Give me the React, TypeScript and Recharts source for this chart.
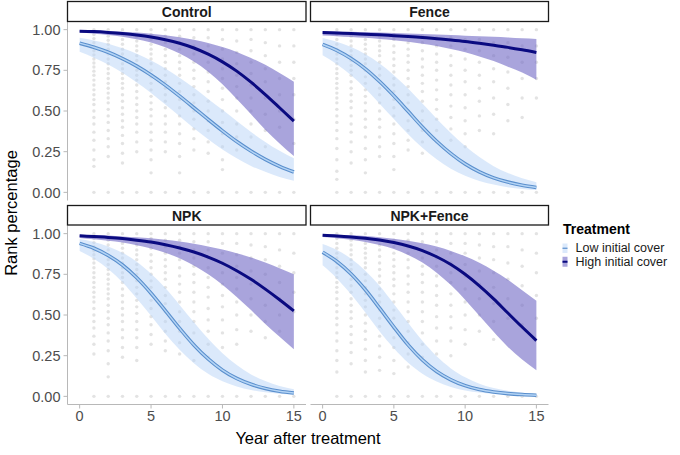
import React from 'react';
import { ComposedChart, Area, Line, Scatter, XAxis, YAxis } from 'recharts';

const YEARS = [0, 1, 2, 3, 4, 5, 6, 7, 8, 9, 10, 11, 12, 13, 14, 15];
const POINT_YEARS = [1, 2, 3, 4, 5, 6, 7, 8, 9, 10, 11, 12, 13, 14, 15];
const X_TICKS = [0, 5, 10, 15];
const Y_TICKS = [0, 0.25, 0.5, 0.75, 1];
const PANEL_NAMES = ['Control', 'Fence', 'NPK', 'NPK+Fence'];
const LEGEND_TITLE = 'Treatment';
const LEGEND_LABELS = ['Low initial cover', 'High initial cover'];
const X_TITLE = 'Year after treatment';
const Y_TITLE = 'Rank percentage';

// ---- Control ----
const CONTROL_LOW_MEAN = [0.917, 0.892, 0.861, 0.822, 0.776, 0.721, 0.659, 0.591, 0.52, 0.448, 0.378, 0.312, 0.254, 0.203, 0.16, 0.125];
const CONTROL_LOW_LO = [0.864, 0.828, 0.786, 0.735, 0.675, 0.611, 0.54, 0.468, 0.394, 0.327, 0.263, 0.209, 0.162, 0.126, 0.095, 0.071];
const CONTROL_LOW_HI = [0.95, 0.934, 0.913, 0.885, 0.852, 0.81, 0.761, 0.705, 0.643, 0.574, 0.507, 0.438, 0.371, 0.31, 0.255, 0.209];
const CONTROL_HIGH_MEAN = [0.99, 0.988, 0.983, 0.976, 0.967, 0.955, 0.938, 0.916, 0.887, 0.849, 0.802, 0.745, 0.677, 0.601, 0.52, 0.438];
const CONTROL_HIGH_LO = [0.982, 0.975, 0.967, 0.956, 0.941, 0.921, 0.892, 0.854, 0.804, 0.741, 0.664, 0.574, 0.48, 0.385, 0.3, 0.223];
const CONTROL_HIGH_HI = [0.996, 0.994, 0.991, 0.987, 0.982, 0.975, 0.965, 0.953, 0.938, 0.918, 0.893, 0.863, 0.826, 0.784, 0.733, 0.679];

// ---- Fence ----
const FENCE_LOW_MEAN = [0.909, 0.872, 0.822, 0.759, 0.681, 0.593, 0.498, 0.402, 0.314, 0.238, 0.175, 0.126, 0.089, 0.063, 0.044, 0.03];
const FENCE_LOW_LO = [0.842, 0.787, 0.719, 0.638, 0.545, 0.451, 0.357, 0.274, 0.203, 0.145, 0.102, 0.07, 0.048, 0.032, 0.021, 0.014];
const FENCE_LOW_HI = [0.949, 0.926, 0.893, 0.849, 0.792, 0.72, 0.639, 0.546, 0.453, 0.365, 0.285, 0.217, 0.161, 0.119, 0.086, 0.062];
const FENCE_HIGH_MEAN = [0.982, 0.979, 0.976, 0.972, 0.968, 0.963, 0.958, 0.952, 0.944, 0.936, 0.927, 0.916, 0.904, 0.891, 0.876, 0.859];
const FENCE_HIGH_LO = [0.964, 0.96, 0.955, 0.95, 0.943, 0.935, 0.925, 0.913, 0.899, 0.881, 0.861, 0.835, 0.807, 0.772, 0.736, 0.692];
const FENCE_HIGH_HI = [0.991, 0.989, 0.987, 0.985, 0.982, 0.98, 0.977, 0.973, 0.97, 0.967, 0.963, 0.96, 0.956, 0.952, 0.947, 0.943];

// ---- NPK ----
const NPK_LOW_MEAN = [0.94, 0.91, 0.866, 0.807, 0.729, 0.634, 0.527, 0.418, 0.316, 0.23, 0.161, 0.11, 0.074, 0.049, 0.032, 0.021];
const NPK_LOW_LO = [0.893, 0.846, 0.782, 0.701, 0.601, 0.495, 0.385, 0.287, 0.204, 0.139, 0.093, 0.061, 0.039, 0.025, 0.016, 0.01];
const NPK_LOW_HI = [0.967, 0.949, 0.921, 0.882, 0.828, 0.754, 0.666, 0.562, 0.455, 0.354, 0.265, 0.192, 0.135, 0.094, 0.064, 0.044];
const NPK_HIGH_MEAN = [0.987, 0.982, 0.977, 0.97, 0.96, 0.948, 0.932, 0.912, 0.887, 0.856, 0.818, 0.772, 0.719, 0.659, 0.594, 0.525];
const NPK_HIGH_LO = [0.973, 0.965, 0.956, 0.945, 0.929, 0.909, 0.882, 0.848, 0.804, 0.75, 0.686, 0.611, 0.53, 0.445, 0.366, 0.289];
const NPK_HIGH_HI = [0.993, 0.991, 0.988, 0.983, 0.978, 0.971, 0.962, 0.951, 0.938, 0.921, 0.902, 0.88, 0.853, 0.823, 0.788, 0.75];

// ---- NPK+Fence ----
const NPKF_LOW_MEAN = [0.886, 0.829, 0.752, 0.655, 0.542, 0.426, 0.316, 0.224, 0.153, 0.102, 0.066, 0.042, 0.027, 0.017, 0.011, 0.007];
const NPKF_LOW_LO = [0.805, 0.725, 0.627, 0.515, 0.399, 0.295, 0.206, 0.139, 0.091, 0.058, 0.036, 0.023, 0.014, 0.009, 0.005, 0.003];
const NPKF_LOW_HI = [0.936, 0.899, 0.846, 0.772, 0.679, 0.567, 0.453, 0.341, 0.246, 0.172, 0.117, 0.078, 0.051, 0.034, 0.022, 0.014];
const NPKF_HIGH_MEAN = [0.99, 0.986, 0.98, 0.972, 0.961, 0.945, 0.924, 0.896, 0.858, 0.81, 0.75, 0.679, 0.599, 0.512, 0.426, 0.343];
const NPKF_HIGH_LO = [0.98, 0.972, 0.962, 0.949, 0.93, 0.905, 0.869, 0.822, 0.76, 0.684, 0.594, 0.495, 0.397, 0.304, 0.226, 0.161];
const NPKF_HIGH_HI = [0.995, 0.993, 0.99, 0.985, 0.978, 0.969, 0.957, 0.941, 0.921, 0.894, 0.861, 0.821, 0.772, 0.717, 0.652, 0.587];

// ---- observed points (one list per year 1..15) ----
const CONTROL_POINTS = [
  [1, 0.97, 0.945, 0.92, 0.895, 0.87, 0.845, 0.82, 0.795, 0.77, 0.745, 0.72, 0.69, 0.66, 0.63, 0.6, 0.57, 0.54, 0.5, 0.46, 0.42, 0.37, 0.32, 0.26, 0.2, 0.16, 0],
  [1, 0.96, 0.935, 0.91, 0.88, 0.85, 0.82, 0.79, 0.76, 0.73, 0.7, 0.67, 0.64, 0.61, 0.58, 0.55, 0.51, 0.47, 0.43, 0.38, 0.33, 0.28, 0.22, 0],
  [1, 0.97, 0.94, 0.91, 0.88, 0.85, 0.82, 0.79, 0.76, 0.73, 0.7, 0.67, 0.64, 0.6, 0.56, 0.52, 0.48, 0.44, 0.4, 0.35, 0.3, 0.24, 0.18, 0],
  [1, 0.96, 0.93, 0.9, 0.87, 0.84, 0.81, 0.78, 0.75, 0.72, 0.69, 0.66, 0.62, 0.58, 0.54, 0.5, 0.46, 0.42, 0.37, 0.31, 0.25, 0],
  [1, 0.97, 0.94, 0.91, 0.88, 0.85, 0.82, 0.79, 0.75, 0.71, 0.67, 0.63, 0.59, 0.55, 0.51, 0.47, 0.42, 0.37, 0.32, 0.26, 0.2, 0.12, 0],
  [1, 0.96, 0.92, 0.88, 0.84, 0.8, 0.76, 0.72, 0.68, 0.64, 0.6, 0.56, 0.52, 0.47, 0.42, 0.37, 0.31, 0.25, 0],
  [1, 0.96, 0.92, 0.88, 0.84, 0.8, 0.76, 0.72, 0.67, 0.62, 0.57, 0.52, 0.47, 0.42, 0.36, 0.3, 0.22, 0.12, 0],
  [1, 0.95, 0.9, 0.85, 0.8, 0.75, 0.7, 0.65, 0.6, 0.55, 0.5, 0.45, 0.39, 0.33, 0.26, 0],
  [1, 0.95, 0.9, 0.85, 0.8, 0.74, 0.68, 0.62, 0.56, 0.5, 0.44, 0.38, 0.31, 0.24, 0],
  [1, 0.94, 0.88, 0.82, 0.76, 0.7, 0.64, 0.57, 0.5, 0.43, 0.36, 0.28, 0.2, 0.14, 0],
  [1, 0.93, 0.86, 0.79, 0.72, 0.65, 0.58, 0.5, 0.42, 0.34, 0.26, 0],
  [1, 0.94, 0.87, 0.8, 0.73, 0.66, 0.58, 0.5, 0.42, 0.34, 0],
  [1, 0.92, 0.84, 0.76, 0.68, 0.58, 0.48, 0.38, 0.28, 0],
  [1, 0.9, 0.8, 0.7, 0.6, 0.5, 0.4, 0],
  [1, 0.9, 0.8, 0.7, 0.6, 0.45, 0.3, 0],
];
const FENCE_POINTS = [
  [1, 0.97, 0.94, 0.91, 0.88, 0.85, 0.82, 0.79, 0.76, 0.73, 0.7, 0.67, 0.64, 0.61, 0.58, 0.55, 0.51, 0.47, 0.43, 0.38, 0.33, 0.27, 0.2, 0.13, 0.08, 0],
  [1, 0.96, 0.93, 0.9, 0.87, 0.84, 0.81, 0.78, 0.75, 0.72, 0.68, 0.64, 0.6, 0.56, 0.52, 0.47, 0.42, 0.37, 0.31, 0.25, 0.18, 0],
  [1, 0.97, 0.94, 0.91, 0.88, 0.85, 0.82, 0.79, 0.75, 0.71, 0.67, 0.63, 0.59, 0.55, 0.5, 0.45, 0.4, 0.34, 0.27, 0.2, 0.12, 0],
  [1, 0.96, 0.93, 0.9, 0.87, 0.84, 0.8, 0.76, 0.72, 0.68, 0.64, 0.6, 0.55, 0.5, 0.45, 0.4, 0.34, 0.28, 0.22, 0],
  [1, 0.97, 0.94, 0.9, 0.86, 0.82, 0.78, 0.74, 0.7, 0.66, 0.62, 0.57, 0.52, 0.47, 0.42, 0.36, 0.3, 0.22, 0.14, 0],
  [1, 0.96, 0.92, 0.88, 0.84, 0.8, 0.75, 0.7, 0.65, 0.6, 0.55, 0.5, 0.44, 0.38, 0.32, 0.26, 0],
  [1, 0.96, 0.92, 0.87, 0.82, 0.77, 0.72, 0.67, 0.62, 0.56, 0.5, 0.44, 0.38, 0.31, 0.24, 0],
  [1, 0.95, 0.9, 0.85, 0.8, 0.75, 0.69, 0.63, 0.57, 0.51, 0.45, 0.38, 0.31, 0],
  [1, 0.95, 0.9, 0.84, 0.78, 0.72, 0.66, 0.6, 0.53, 0.46, 0.39, 0.32, 0.24, 0],
  [1, 0.94, 0.88, 0.82, 0.75, 0.68, 0.6, 0.52, 0.44, 0.36, 0.28, 0],
  [1, 0.94, 0.87, 0.8, 0.72, 0.64, 0.56, 0.47, 0.38, 0],
  [1, 0.92, 0.84, 0.76, 0.68, 0.58, 0.48, 0.36, 0],
  [1, 0.92, 0.83, 0.74, 0.64, 0.54, 0.44, 0],
  [1, 0.9, 0.8, 0.7, 0.58, 0.46, 0],
  [1, 0.9, 0.8, 0.7, 0.58, 0],
];
const NPK_POINTS = [
  [1, 0.97, 0.945, 0.92, 0.895, 0.87, 0.845, 0.82, 0.79, 0.76, 0.73, 0.7, 0.67, 0.64, 0.61, 0.58, 0.54, 0.5, 0.46, 0.42, 0.37, 0.32, 0.26, 0],
  [1, 0.96, 0.93, 0.9, 0.87, 0.84, 0.81, 0.78, 0.75, 0.72, 0.69, 0.66, 0.63, 0.6, 0.56, 0.52, 0.48, 0.44, 0.39, 0.34, 0.28, 0.2, 0.12, 0],
  [1, 0.97, 0.94, 0.91, 0.88, 0.85, 0.82, 0.79, 0.76, 0.73, 0.7, 0.66, 0.62, 0.58, 0.54, 0.5, 0.46, 0.41, 0.36, 0.3, 0.24, 0],
  [1, 0.96, 0.93, 0.9, 0.87, 0.84, 0.81, 0.78, 0.75, 0.71, 0.67, 0.63, 0.59, 0.55, 0.51, 0.46, 0.41, 0.36, 0.3, 0.22, 0],
  [1, 0.97, 0.94, 0.91, 0.87, 0.83, 0.79, 0.75, 0.71, 0.67, 0.63, 0.59, 0.54, 0.49, 0.44, 0.38, 0.32, 0],
  [1, 0.96, 0.92, 0.88, 0.84, 0.8, 0.76, 0.72, 0.67, 0.62, 0.57, 0.52, 0.46, 0.4, 0.34, 0.28, 0],
  [1, 0.96, 0.92, 0.88, 0.84, 0.79, 0.74, 0.69, 0.64, 0.58, 0.52, 0.46, 0.4, 0.33, 0.26, 0],
  [1, 0.95, 0.9, 0.85, 0.8, 0.75, 0.7, 0.64, 0.58, 0.52, 0.46, 0.39, 0.32, 0.22, 0],
  [1, 0.95, 0.9, 0.85, 0.79, 0.73, 0.67, 0.61, 0.54, 0.47, 0.4, 0.32, 0.24, 0],
  [1, 0.94, 0.88, 0.82, 0.76, 0.69, 0.62, 0.55, 0.47, 0.39, 0.3, 0],
  [1, 0.94, 0.87, 0.8, 0.73, 0.66, 0.58, 0.5, 0.41, 0.32, 0],
  [1, 0.93, 0.85, 0.77, 0.69, 0.6, 0.5, 0.4, 0],
  [1, 0.92, 0.84, 0.75, 0.66, 0.56, 0.46, 0.36, 0],
  [1, 0.9, 0.8, 0.7, 0.6, 0.5, 0.4, 0],
  [1, 0.88, 0.76, 0.64, 0.52, 0],
];
const NPKF_POINTS = [
  [1, 0.97, 0.94, 0.91, 0.88, 0.85, 0.82, 0.79, 0.76, 0.73, 0.7, 0.67, 0.64, 0.6, 0.56, 0.52, 0.48, 0.44, 0.39, 0.34, 0.28, 0.22, 0.15, 0],
  [1, 0.96, 0.93, 0.9, 0.87, 0.84, 0.81, 0.78, 0.75, 0.72, 0.68, 0.64, 0.6, 0.56, 0.52, 0.48, 0.43, 0.38, 0.33, 0.27, 0.2, 0],
  [1, 0.97, 0.94, 0.91, 0.88, 0.85, 0.82, 0.79, 0.75, 0.71, 0.67, 0.63, 0.59, 0.55, 0.5, 0.45, 0.4, 0.35, 0.29, 0.22, 0.15, 0],
  [1, 0.96, 0.93, 0.9, 0.86, 0.82, 0.78, 0.74, 0.7, 0.66, 0.62, 0.58, 0.53, 0.48, 0.43, 0.37, 0.31, 0.24, 0.16, 0],
  [1, 0.96, 0.92, 0.88, 0.84, 0.8, 0.76, 0.72, 0.68, 0.63, 0.58, 0.53, 0.48, 0.42, 0.36, 0.3, 0.22, 0.14, 0],
  [1, 0.96, 0.92, 0.88, 0.84, 0.79, 0.74, 0.69, 0.64, 0.58, 0.52, 0.46, 0.4, 0.33, 0.26, 0.18, 0],
  [1, 0.95, 0.9, 0.85, 0.8, 0.75, 0.7, 0.64, 0.58, 0.52, 0.46, 0.39, 0.32, 0.24, 0],
  [1, 0.95, 0.9, 0.85, 0.8, 0.74, 0.68, 0.62, 0.56, 0.49, 0.42, 0.34, 0.26, 0],
  [1, 0.94, 0.88, 0.82, 0.76, 0.7, 0.63, 0.56, 0.49, 0.42, 0.34, 0.25, 0],
  [1, 0.94, 0.88, 0.81, 0.74, 0.66, 0.58, 0.5, 0.41, 0.32, 0],
  [1, 0.93, 0.85, 0.77, 0.69, 0.6, 0.5, 0.4, 0],
  [1, 0.92, 0.84, 0.76, 0.67, 0.57, 0.46, 0.35, 0],
  [1, 0.92, 0.82, 0.72, 0.6, 0.48, 0],
  [1, 0.9, 0.8, 0.68, 0.56, 0.44, 0],
  [1, 0.88, 0.76, 0.62, 0.48, 0],
];

const FONT = '"Liberation Sans", Arial, Helvetica, sans-serif';
const AXIS_GREY = '#b8b8b8';
const TICK_TEXT = '#4d4d4d';
const LOW_FILL = '#b7d4f7';
const LOW_EDGE = '#5a8fcd';
const LOW_CORE = '#b4d4f5';
const HIGH_FILL = '#6f68c4';
const HIGH_LINE = '#0a0a80';
const DOT_FILL = '#c8c8c8';

function buildCurve(lm: number[], ll: number[], lh: number[], hm: number[], hl: number[], hh: number[]) {
  return YEARS.map((t, i) => ({
    t,
    lowMean: lm[i],
    lowBand: [ll[i], lh[i]],
    highMean: hm[i],
    highBand: [hl[i], hh[i]],
  }));
}

function buildPoints(cols: number[][]) {
  const out: { t: number; y: number }[] = [];
  POINT_YEARS.forEach((t, i) => {
    cols[i].forEach((y) => out.push({ t, y }));
  });
  return out;
}

const PANELS = [
  {
    name: PANEL_NAMES[0],
    curve: buildCurve(CONTROL_LOW_MEAN, CONTROL_LOW_LO, CONTROL_LOW_HI, CONTROL_HIGH_MEAN, CONTROL_HIGH_LO, CONTROL_HIGH_HI),
    points: buildPoints(CONTROL_POINTS),
  },
  {
    name: PANEL_NAMES[1],
    curve: buildCurve(FENCE_LOW_MEAN, FENCE_LOW_LO, FENCE_LOW_HI, FENCE_HIGH_MEAN, FENCE_HIGH_LO, FENCE_HIGH_HI),
    points: buildPoints(FENCE_POINTS),
  },
  {
    name: PANEL_NAMES[2],
    curve: buildCurve(NPK_LOW_MEAN, NPK_LOW_LO, NPK_LOW_HI, NPK_HIGH_MEAN, NPK_HIGH_LO, NPK_HIGH_HI),
    points: buildPoints(NPK_POINTS),
  },
  {
    name: PANEL_NAMES[3],
    curve: buildCurve(NPKF_LOW_MEAN, NPKF_LOW_LO, NPKF_LOW_HI, NPKF_HIGH_MEAN, NPKF_HIGH_LO, NPKF_HIGH_HI),
    points: buildPoints(NPKF_POINTS),
  },
];

const Dot = (props: any) => {
  const { cx, cy } = props;
  if (cx == null || cy == null) return null;
  return <circle cx={cx} cy={cy} r={1.7} fill={DOT_FILL} fillOpacity={0.5} />;
};

type PanelProps = {
  curve: any[];
  points: any[];
  showX: boolean;
  showY: boolean;
  width: number;
  height: number;
  margin: { top: number; right: number; bottom: number; left: number };
};

function Panel({ curve, points, showX, showY, width, height, margin }: PanelProps) {
  return (
    <ComposedChart width={width} height={height} margin={margin} data={curve}>
      <XAxis
        type="number"
        dataKey="t"
        domain={[-0.85, 15.85]}
        ticks={X_TICKS}
        interval={0}
        allowDataOverflow
        hide={!showX}
        height={26}
        tickSize={4}
        tickMargin={2}
        stroke={AXIS_GREY}
        tickLine={{ stroke: AXIS_GREY }}
        axisLine={{ stroke: AXIS_GREY }}
        tick={{ fill: TICK_TEXT, fontSize: 14.5, fontFamily: FONT }}
      />
      <YAxis
        type="number"
        domain={[-0.05, 1.05]}
        ticks={Y_TICKS}
        interval={0}
        allowDataOverflow
        hide={!showY}
        width={67.5}
        tickSize={4}
        tickMargin={3}
        stroke={AXIS_GREY}
        tickLine={{ stroke: AXIS_GREY }}
        axisLine={{ stroke: AXIS_GREY }}
        tick={{ fill: TICK_TEXT, fontSize: 14.5, fontFamily: FONT }}
        tickFormatter={(v: number) => v.toFixed(2)}
      />
      <Scatter data={points} dataKey="y" shape={Dot} isAnimationActive={false} zIndex={50} />
      <Area
        type="monotone"
        dataKey="lowBand"
        fill={LOW_FILL}
        fillOpacity={0.5}
        stroke="none"
        activeDot={false}
        dot={false}
        isAnimationActive={false}
      />
      <Area
        type="monotone"
        dataKey="highBand"
        fill={HIGH_FILL}
        fillOpacity={0.6}
        stroke="none"
        activeDot={false}
        dot={false}
        isAnimationActive={false}
      />
      <Line type="monotone" dataKey="lowMean" stroke={LOW_EDGE} strokeWidth={3.6} dot={false} activeDot={false} isAnimationActive={false} />
      <Line type="monotone" dataKey="lowMean" stroke={LOW_CORE} strokeWidth={1.5} dot={false} activeDot={false} isAnimationActive={false} />
      <Line type="monotone" dataKey="highMean" stroke={HIGH_LINE} strokeWidth={3} dot={false} activeDot={false} isAnimationActive={false} />
    </ComposedChart>
  );
}

const LAYOUT = [
  { left: 0, top: 0, width: 310, height: 205, margin: { top: 21.5, right: 4, bottom: 4.5, left: 0 }, showX: false, showY: true },
  { left: 306, top: 0, width: 246, height: 205, margin: { top: 21.5, right: 3.5, bottom: 4.5, left: 4.5 }, showX: false, showY: false },
  { left: 0, top: 205, width: 310, height: 230, margin: { top: 20.5, right: 4, bottom: 4.5, left: 0 }, showX: true, showY: true },
  { left: 306, top: 205, width: 246, height: 230, margin: { top: 20.5, right: 3.5, bottom: 4.5, left: 4.5 }, showX: true, showY: false },
];

const STRIPS = [
  { x: 67.5, y: 1.5, w: 238.5, h: 20 },
  { x: 310.5, y: 1.5, w: 238, h: 20 },
  { x: 67.5, y: 205.5, w: 238.5, h: 19.5 },
  { x: 310.5, y: 205.5, w: 238, h: 19.5 },
];

export default function App() {
  return (
    <div style={{ position: 'absolute', left: 0, top: 0, width: 680, height: 455, background: '#ffffff', fontFamily: FONT, overflow: 'hidden' }}>
      {PANELS.map((p, i) => {
        const L = LAYOUT[i];
        return (
          <div key={p.name} style={{ position: 'absolute', left: L.left, top: L.top }}>
            <Panel curve={p.curve} points={p.points} showX={L.showX} showY={L.showY} width={L.width} height={L.height} margin={L.margin} />
          </div>
        );
      })}
      <svg width={680} height={455} style={{ position: 'absolute', left: 0, top: 0, pointerEvents: 'none' }}>
        {PANELS.map((p, i) => {
          const s = STRIPS[i];
          return (
            <g key={p.name}>
              <rect x={s.x} y={s.y} width={s.w} height={s.h} fill="#ffffff" stroke="#1a1a1a" strokeWidth={1.3} />
              <text x={s.x + s.w / 2} y={s.y + s.h / 2 + 0.5} textAnchor="middle" dominantBaseline="central" fontSize={14} fontWeight="bold" fontFamily={FONT} fill="#1a1a1a">
                {p.name}
              </text>
            </g>
          );
        })}
        <text x={308} y={444} textAnchor="middle" fontSize={16.5} fontFamily={FONT} fill="#000">
          {X_TITLE}
        </text>
        <text transform="translate(11,213) rotate(-90)" textAnchor="middle" dominantBaseline="central" fontSize={16.5} fontFamily={FONT} fill="#000">
          {Y_TITLE}
        </text>
        <text x={563} y={234} fontSize={14} fontWeight="bold" fontFamily={FONT} fill="#000">
          {LEGEND_TITLE}
        </text>
        <rect x={562.5} y={243.5} width={5} height={9.5} fill={LOW_FILL} fillOpacity={0.5} />
        <line x1={562.5} x2={567.5} y1={248.25} y2={248.25} stroke={LOW_EDGE} strokeWidth={1.2} />
        <rect x={562.5} y={256.75} width={5} height={10} fill={HIGH_FILL} fillOpacity={0.6} />
        <line x1={562.5} x2={567.5} y1={261.75} y2={261.75} stroke={HIGH_LINE} strokeWidth={2} />
        <text x={575.5} y={248.25} dominantBaseline="central" fontSize={12.5} fontFamily={FONT} fill="#1a1a1a">
          {LEGEND_LABELS[0]}
        </text>
        <text x={575.5} y={261.75} dominantBaseline="central" fontSize={12.5} fontFamily={FONT} fill="#1a1a1a">
          {LEGEND_LABELS[1]}
        </text>
      </svg>
    </div>
  );
}
